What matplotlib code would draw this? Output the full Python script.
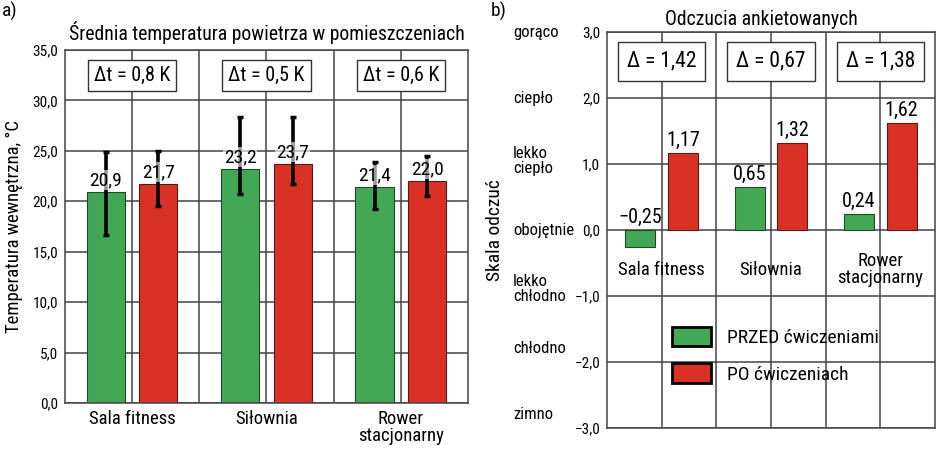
import matplotlib
matplotlib.use("Agg")
import matplotlib.pyplot as plt
import matplotlib.transforms as mtransforms
from matplotlib.patches import Patch

plt.rcParams['font.family'] = ['Roboto Condensed', 'DejaVu Sans']
plt.rcParams['axes.unicode_minus'] = True

# data
places = ["Sala fitness", "Siłownia", "Rower\nstacjonarny"]
temp_before = [20.9, 23.2, 21.4]
temp_after = [21.7, 23.7, 22.0]
temp_before_lo = [16.7, 20.7, 19.2]
temp_before_hi = [24.9, 28.4, 23.9]
temp_after_lo = [19.5, 21.7, 20.5]
temp_after_hi = [25.0, 28.4, 24.5]
delta_t = ["0,8", "0,5", "0,6"]

feel_before = [-0.25, 0.65, 0.24]
feel_after = [1.17, 1.32, 1.62]
delta_feel = ["1,42", "0,67", "1,38"]
feel_levels = [3.0, 2.0, 1.05, 0.0, -0.9, -1.8, -2.8]
feel_names = ["gorąco", "ciepło", "lekko\nciepło", "obojętnie", "lekko\nchłodno", "chłodno", "zimno"]

GREEN = "#43a855"
RED = "#d93126"
GRID = "#444444"
centers = [1, 3, 5]
off = 0.39
w = 0.57


def fmt(v):
    return f"{v:.1f}".replace(".", ",").replace("-", "\u2212")


def fmt2(v):
    return f"{v:.2f}".replace(".", ",").replace("-", "\u2212")


fig = plt.figure(figsize=(9.38, 4.55), dpi=100)

# ---------- a) ----------
ax1 = fig.add_axes([0.0693, 0.1143, 0.4296, 0.7758])
ax1.set_xlim(0, 6)
ax1.set_ylim(0, 35)
ax1.set_xticks([1, 2, 3, 4, 5])
ax1.set_xticklabels([places[0], "", places[1], "", places[2]], fontsize=13.5, linespacing=0.95)
ax1.set_yticks(range(0, 36, 5))
ax1.set_yticklabels([fmt(v) for v in range(0, 36, 5)], fontsize=11)
ax1.tick_params(length=0, pad=5)
ax1.grid(True, color=GRID, lw=1.1)
ax1.set_axisbelow(True)
for s in ax1.spines.values():
    s.set_color(GRID)
    s.set_linewidth(1.1)

xb = [c - off for c in centers]
xa = [c + off for c in centers]
ax1.bar(xb, temp_before, w, color=GREEN, edgecolor="#1d4a24", lw=0.8, zorder=2)
ax1.bar(xa, temp_after, w, color=RED, edgecolor="#5a1a14", lw=0.8, zorder=2)

for x, v, lo, hi in list(zip(xb, temp_before, temp_before_lo, temp_before_hi)) + \
        list(zip(xa, temp_after, temp_after_lo, temp_after_hi)):
    ax1.errorbar(x, v, yerr=[[v - lo], [hi - v]], fmt="none", ecolor="black",
                 elinewidth=2.6, capsize=2.5, capthick=2.5, zorder=3)
    ax1.text(x, v + 0.3, fmt(v), ha="center", va="bottom", fontsize=14, zorder=4,
             bbox=dict(facecolor="white", edgecolor="none", alpha=0.6, pad=0.5))

for c, d in zip(centers, delta_t):
    ax1.text(c, 32.5, f"\u0394t = {d} K", ha="center", va="center", fontsize=14.5, zorder=4,
             bbox=dict(facecolor="white", edgecolor="#333333", lw=1.0, boxstyle="square,pad=0.3"))

ax1.set_ylabel("Temperatura wewnętrzna, °C", fontsize=13.5)
ax1.yaxis.set_label_coords(-0.105, 0.5)
ax1.set_title("Średnia temperatura powietrza w pomieszczeniach", fontsize=14.2, pad=7)
fig.text(0.002, 0.975, "a)", fontsize=14, va="center", ha="left")

# ---------- b) ----------
ax2 = fig.add_axes([0.6471, 0.0593, 0.3497, 0.8703])
ax2.set_xlim(0, 6)
ax2.set_ylim(-3, 3)
ax2.set_xticks([1, 2, 3, 4, 5])
ax2.set_xticklabels([])
ax2.set_yticks(range(-3, 4))
ax2.set_yticklabels([fmt(v) for v in range(-3, 4)], fontsize=11)
ax2.tick_params(length=0, pad=5)
ax2.grid(True, color=GRID, lw=1.1)
ax2.set_axisbelow(True)
for s in ax2.spines.values():
    s.set_color(GRID)
    s.set_linewidth(1.1)

ax2.bar(xb, feel_before, 0.55, color=GREEN, edgecolor="#1d4a24", lw=0.8, zorder=2)
ax2.bar(xa, feel_after, 0.55, color=RED, edgecolor="#5a1a14", lw=0.8, zorder=2)
for x, v in zip(xb + xa, feel_before + feel_after):
    ax2.text(x, max(v, 0) + 0.05, fmt2(v), ha="center", va="bottom", fontsize=14.5, zorder=4)

for c, d in zip(centers, delta_feel):
    ax2.text(c, 2.56, f"\u0394 = {d}", ha="center", va="center", fontsize=15.5, zorder=4,
             bbox=dict(facecolor="white", edgecolor="#333333", lw=1.0, boxstyle="square,pad=0.42"))

for c, p in zip(centers, places):
    ax2.text(c, -0.6, p, ha="center", va="center", fontsize=13.5, linespacing=0.95, zorder=4)

trans = mtransforms.blended_transform_factory(ax2.transAxes, ax2.transData)
for y, name in zip(feel_levels, feel_names):
    ax2.text(-0.287, y, name, transform=trans, ha="left", va="center", fontsize=12,
             linespacing=1.0)

ax2.text(-0.34, 0.5, "Skala odczuć", transform=ax2.transAxes, rotation=90,
         ha="center", va="center", fontsize=14)
ax2.set_title("Odczucia ankietowanych", fontsize=14.2, pad=5, x=0.47)
fig.text(0.523, 0.975, "b)", fontsize=14, va="center", ha="left")

handles = [Patch(facecolor=GREEN, edgecolor="black", lw=2, label="PRZED ćwiczeniami"),
           Patch(facecolor=RED, edgecolor="black", lw=2, label="PO ćwiczeniach")]
ax2.legend(handles=handles, loc="upper left", bbox_to_anchor=(0.146, 0.30), frameon=False,
           fontsize=14, handlelength=2.0, handleheight=1.15, handletextpad=0.8,
           labelspacing=0.85)

fig.savefig("out.png", dpi=100)
